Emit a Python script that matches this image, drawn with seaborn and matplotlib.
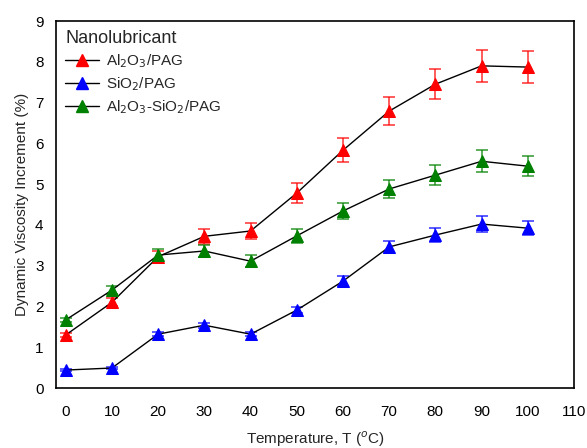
import matplotlib
matplotlib.use("Agg")
import matplotlib.pyplot as plt
import seaborn as sns
import numpy as np
import pandas as pd
from matplotlib.lines import Line2D

temps = [0, 10, 20, 30, 40, 50, 60, 70, 80, 90, 100]
al2o3 = [1.30, 2.10, 3.22, 3.72, 3.85, 4.78, 5.83, 6.79, 7.45, 7.90, 7.87]
al2o3_err = [0.06, 0.10, 0.15, 0.18, 0.20, 0.25, 0.30, 0.35, 0.37, 0.40, 0.40]
sio2 = [0.44, 0.49, 1.32, 1.54, 1.32, 1.91, 2.62, 3.46, 3.75, 4.02, 3.92]
sio2_err = [0.03, 0.03, 0.05, 0.06, 0.05, 0.08, 0.12, 0.15, 0.18, 0.20, 0.18]
hybrid = [1.67, 2.40, 3.26, 3.36, 3.11, 3.73, 4.34, 4.88, 5.22, 5.56, 5.44]
hybrid_err = [0.05, 0.10, 0.15, 0.15, 0.15, 0.18, 0.20, 0.23, 0.25, 0.27, 0.25]
labels = ["Al$_2$O$_3$/PAG", "SiO$_2$/PAG", "Al$_2$O$_3$-SiO$_2$/PAG"]
colors = ["#ff0000", "#0000ff", "#008000"]

sns.set_theme(style="white")
plt.rcParams['font.family'] = ['Liberation Sans', 'DejaVu Sans']

fig = plt.figure(figsize=(5.87, 4.48), dpi=100)
ax = fig.add_axes([56/587, 1-388/448, (574-56)/587, (388-21)/448])

series = [(al2o3, al2o3_err), (sio2, sio2_err), (hybrid, hybrid_err)]
for (vals, errs), lab, c in zip(series, labels, colors):
    df = pd.DataFrame({"T": temps, "v": vals})
    sns.lineplot(data=df, x="T", y="v", ax=ax, color="black", lw=1.0,
                 marker="^", markersize=9, markerfacecolor=c,
                 markeredgecolor=c, zorder=3)
    ax.errorbar(temps, vals, yerr=errs, fmt="none", ecolor=c, elinewidth=1.2,
                capsize=4, capthick=1.2, alpha=0.75, zorder=2)

ax.set_xlim(-2.1, 110)
ax.set_ylim(0, 9)
ax.set_xticks(range(0, 111, 10))
ax.set_yticks(range(0, 10))
ax.tick_params(axis="both", length=0, labelsize=11, colors="black", pad=12)
ax.tick_params(axis="y", pad=9)
ax.set_xlabel("Temperature, T ($^{o}$C)", fontsize=11, labelpad=8)
ax.set_ylabel("Dynamic Viscosity Increment (%)", fontsize=11, labelpad=4)
for s in ax.spines.values():
    s.set_color("black")
    s.set_linewidth(1.2)

handles = [Line2D([0], [0], color="black", lw=1, marker="^", markersize=9,
                  markerfacecolor=c, markeredgecolor=c) for c in colors]
leg = ax.legend(handles, labels, title="Nanolubricant", loc="upper left",
                frameon=False, fontsize=11, title_fontsize=13,
                handlelength=2.2, handletextpad=0.5, labelspacing=0.35,
                borderaxespad=0.2, bbox_to_anchor=(0.0, 1.0))
leg._legend_box.align = "left"

fig.savefig("out.png", dpi=100)
